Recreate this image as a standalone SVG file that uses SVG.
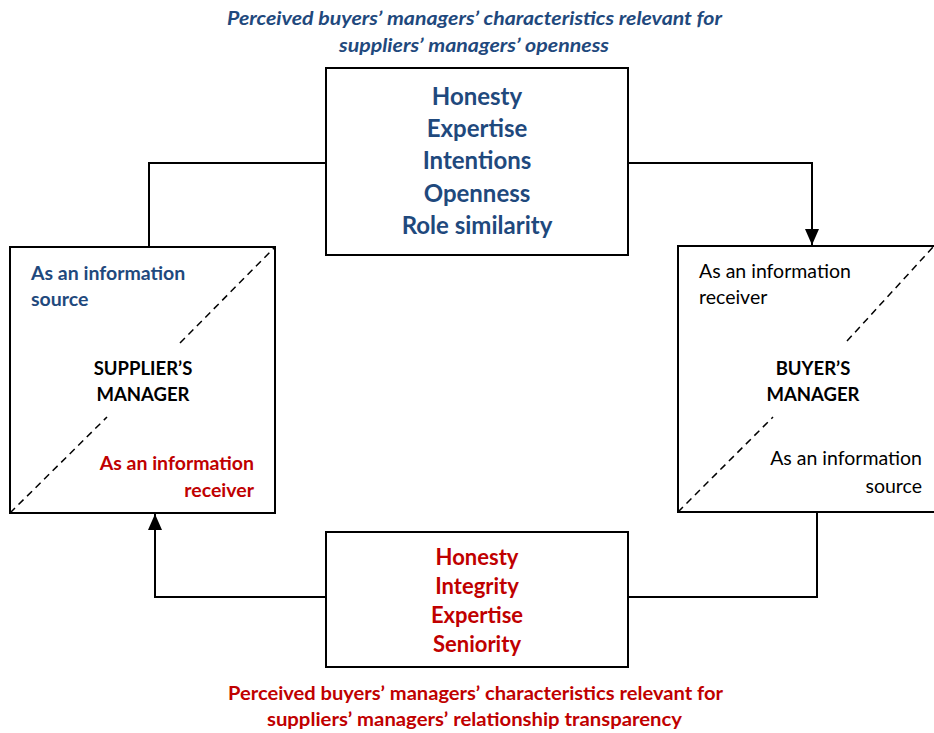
<svg xmlns="http://www.w3.org/2000/svg" width="934" height="733" viewBox="0 0 934 733">
  <style>
    .box { fill: #ffffff; stroke: #000000; stroke-width: 2; }
    .wire { fill: none; stroke: #000000; stroke-width: 2; }
    .diag { fill: none; stroke: #000000; stroke-width: 1.5; stroke-dasharray: 7 5; }
    text { font-family: Lato, "Liberation Sans", sans-serif; }
    .blue { fill: #1F497D; }
    .red { fill: #C00000; }
    .ink { fill: #000000; }
    .b { font-weight: bold; }
    .cap { font-size: 19.5px; font-weight: bold; text-anchor: middle; }
    .item { font-size: 24px; font-weight: bold; text-anchor: middle; }
    .item2 { font-size: 22px; font-weight: bold; text-anchor: middle; }
    .role { font-size: 19.5px; }
    .mgr { font-size: 18.5px; font-weight: bold; text-anchor: middle; }
  </style>
  <defs>
    <marker id="arrow" viewBox="0 0 16 14" refX="16" refY="7" markerWidth="16" markerHeight="14" markerUnits="userSpaceOnUse" orient="auto">
      <path d="M0,0 L16,7 L0,14 Z" fill="#000000"/>
    </marker>
  </defs>

  <!-- connectors -->
  <g id="connectors">
    <polyline class="wire" points="326,163 149,163 149,247"/>
    <polyline class="wire" points="628,163 812,163 812,245" marker-end="url(#arrow)"/>
    <polyline class="wire" points="817,512 817,597 628,597"/>
    <polyline class="wire" points="326,597 155,597 155,514" marker-end="url(#arrow)"/>
  </g>

  <!-- top caption -->
  <g id="caption-top">
    <text class="cap blue" font-style="italic" x="474.5" y="25" textLength="495" lengthAdjust="spacingAndGlyphs">Perceived buyers’ managers’ characteristics relevant for</text>
    <text class="cap blue" font-style="italic" x="474" y="52" textLength="270" lengthAdjust="spacingAndGlyphs">suppliers’ managers’ openness</text>
  </g>

  <!-- openness characteristics -->
  <g id="node-openness">
    <rect class="box" x="326" y="68" width="302" height="187"/>
    <text class="item blue" x="477" y="105">Honesty</text>
    <text class="item blue" x="477" y="137">Expertise</text>
    <text class="item blue" x="477" y="169">Intentions</text>
    <text class="item blue" x="477" y="202">Openness</text>
    <text class="item blue" x="477" y="234">Role similarity</text>
  </g>

  <!-- supplier's manager -->
  <g id="node-supplier">
    <rect class="box" x="10" y="247" width="265" height="266"/>
    <path class="diag" d="M10,513 L107,417 M180,343 L275,247"/>
    <text class="role b blue" x="31" y="280">As an information</text>
    <text class="role b blue" x="31" y="306">source</text>
    <text class="mgr ink" x="143" y="375">SUPPLIER’S</text>
    <text class="mgr ink" x="143" y="401">MANAGER</text>
    <text class="role b red" x="254" y="470" text-anchor="end">As an information</text>
    <text class="role b red" x="254" y="497" text-anchor="end">receiver</text>
  </g>

  <!-- buyer's manager -->
  <g id="node-buyer">
    <rect class="box" x="678" y="246" width="258" height="266"/>
    <path class="diag" d="M678,512 L773,417 M847,341 L934,246"/>
    <text class="role ink" x="699" y="278">As an information</text>
    <text class="role ink" x="699" y="304">receiver</text>
    <text class="mgr ink" x="813" y="375">BUYER’S</text>
    <text class="mgr ink" x="813" y="401">MANAGER</text>
    <text class="role ink" x="922" y="465" text-anchor="end">As an information</text>
    <text class="role ink" x="922" y="493" text-anchor="end">source</text>
  </g>

  <!-- transparency characteristics -->
  <g id="node-transparency">
    <rect class="box" x="326" y="532" width="302" height="135"/>
    <text class="item2 red" x="477" y="565">Honesty</text>
    <text class="item2 red" x="477" y="594">Integrity</text>
    <text class="item2 red" x="477" y="623">Expertise</text>
    <text class="item2 red" x="477" y="652">Seniority</text>
  </g>

  <!-- bottom caption -->
  <g id="caption-bottom">
    <text class="cap red" x="475.5" y="700" textLength="495" lengthAdjust="spacingAndGlyphs">Perceived buyers’ managers’ characteristics relevant for</text>
    <text class="cap red" x="474.5" y="726" textLength="415" lengthAdjust="spacingAndGlyphs">suppliers’ managers’ relationship transparency</text>
  </g>
</svg>
